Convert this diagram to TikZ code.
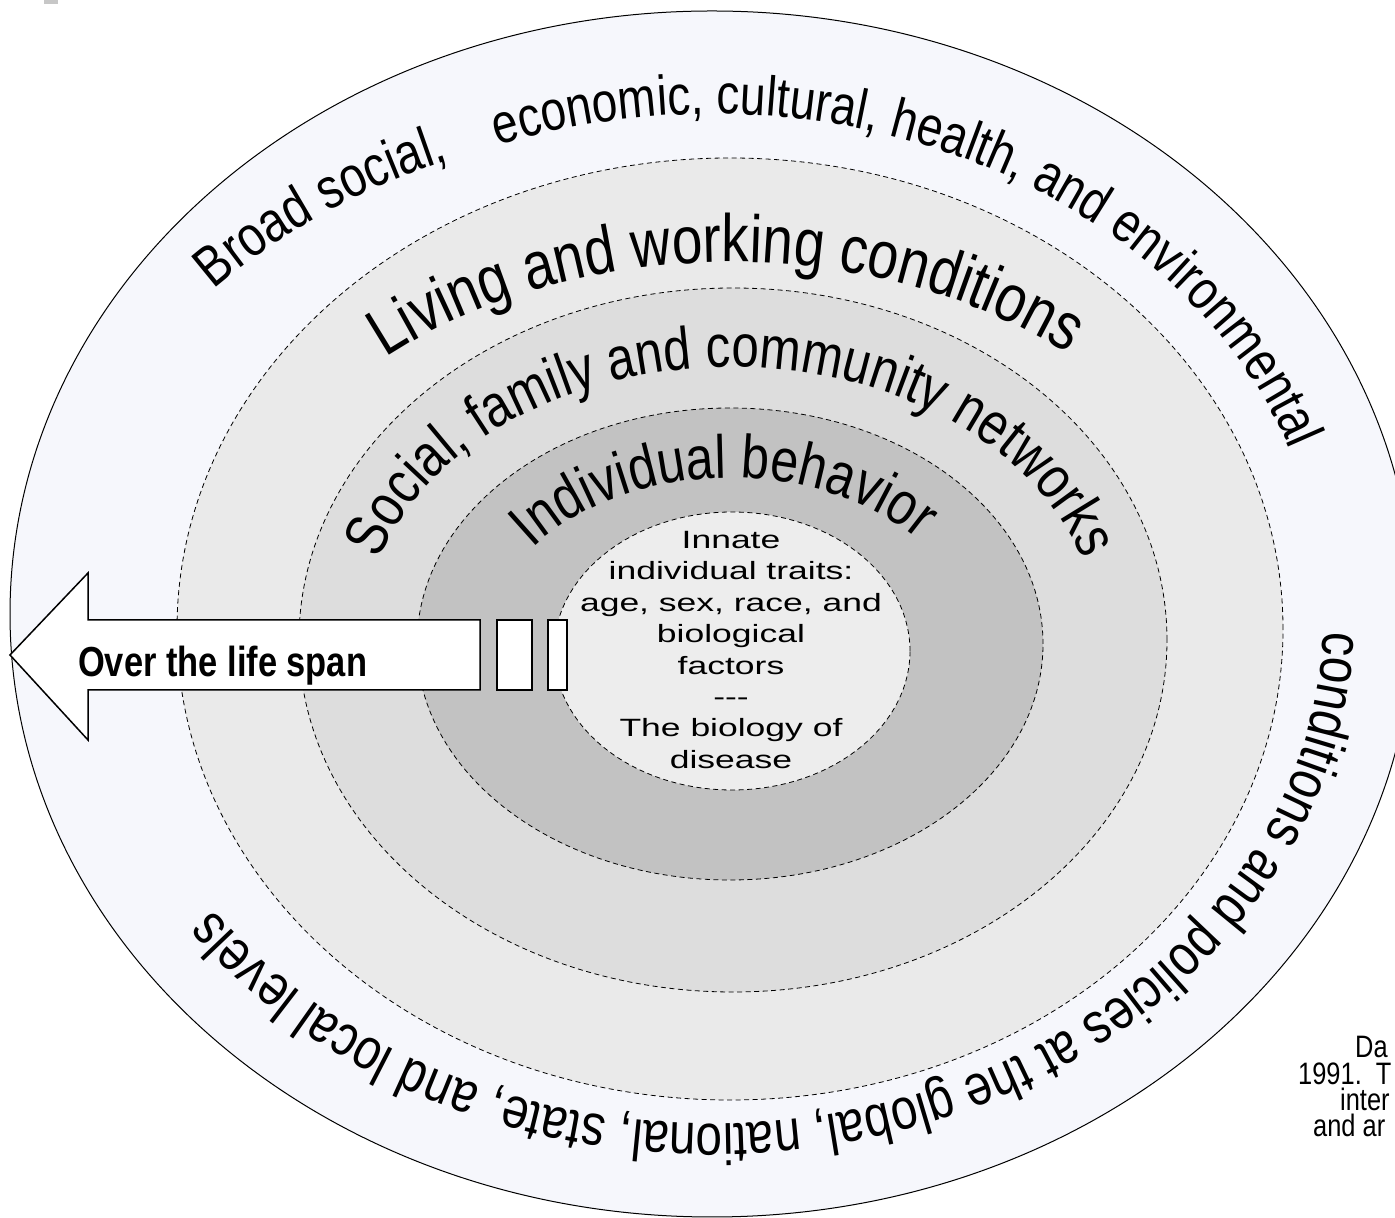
\documentclass[tikz,border=0pt]{standalone}
\usepackage{fontspec}
\setmainfont{Liberation Sans}
\newfontfamily\nar[FakeStretch=0.82]{Liberation Sans}
\newfontfamily\widef[FakeStretch=1.42]{Liberation Sans}
\usetikzlibrary{decorations.text}
\definecolor{tintc}{HTML}{F6F7FC}
\definecolor{ringA}{HTML}{EAEAEA}
\definecolor{ringB}{HTML}{DDDDDD}
\definecolor{ringC}{HTML}{C2C2C2}
\definecolor{ringD}{HTML}{EDEDED}
\pgfdeclareradialshading{outerglow}{\pgfpoint{0bp}{0bp}}{color(0bp)=(tintc); color(38bp)=(tintc); color(50bp)=(white)}
\begin{document}
\begin{tikzpicture}[x=1pt,y=1pt,
  ringline/.style={draw=black, line width=0.8pt, dash pattern=on 5pt off 3.5pt},
  boxpart/.style={draw=black, line width=1.5pt, fill=white},
  inner/.style={font=\widef\fontsize{25}{31.4}\selectfont, align=center},
  credit/.style={font=\nar\fontsize{31}{33}\selectfont, anchor=base west, inner sep=0pt}]
\useasboundingbox (0,0) rectangle (1395,1218);
\fill[white] (0,0) rectangle (1395,1218);
\fill[black!22] (44,1214) rectangle (58,1218);
% rings
\shade[shading=outerglow] (712,604) ellipse [x radius=702, y radius=603];
\draw[line width=1pt] (712,604) ellipse [x radius=702, y radius=603];
\path[ringline, fill=ringA] (730,589) ellipse [x radius=553, y radius=471];
\path[ringline, fill=ringB] (733,578) ellipse [x radius=434, y radius=352];
\path[ringline, fill=ringC] (730,574) ellipse [x radius=313, y radius=236];
\path[ringline, fill=ringD] (732,567) ellipse [x radius=178, y radius=139];
% outer curved text
\path[shift={(712,604)}, decorate, decoration={text along path,
  text={|\nar\fontsize{57}{60}\selectfont|Broad social,}}]
  (139:660 and 495) arc[start angle=139, end angle=95, x radius=660, y radius=495];
\path[shift={(712,604)}, decorate, decoration={text along path,
  text={|\nar\fontsize{56}{60}\selectfont|economic, cultural, health, and environmental}}]
  (110.5:612 and 500) arc[start angle=110.5, end angle=-20, x radius=612, y radius=500];
\path[shift={(712,604)}, decorate, decoration={text along path,
  text={|\nar\fontsize{58}{62}\selectfont|conditions and policies at the global, national, state, and local levels}}]
  (-2:612 and 510) arc[start angle=-2, end angle=-178, x radius=612, y radius=510];
% ring texts
\path[shift={(730,578)}, decorate, decoration={text along path, text align=center,
  text={|\nar\fontsize{67}{74}\selectfont|Living and working conditions}}]
  (150:517 and 378) arc[start angle=150, end angle=31, x radius=517, y radius=378];
\path[shift={(731,578)}, decorate, decoration={text along path, text align=center,
  text={|\nar\fontsize{60}{66}\selectfont|Social, family and community networks}}]
  (178:368 and 273) arc[start angle=178, end angle=2, x radius=368, y radius=273];
\path[shift={(730,568)}, decorate, decoration={text along path, text align=center,
  text={|\nar\fontsize{61}{67}\selectfont|Individual behavior}}]
  (165:245 and 172) arc[start angle=165, end angle=19, x radius=245, y radius=172];
% inner text
\node[inner] (core) at (731,568) {Innate\\individual traits:\\age, sex, race, and\\biological\\factors\\---\\The biology of\\disease};
% arrow
\coordinate (tip) at (10,563);
\draw[boxpart, line join=miter] (tip) -- (88,645) -- (88,598) -- (480,598) -- (480,528) -- (88,528) -- (88,478) -- cycle;
\node[anchor=base west, inner sep=0pt, font=\nar\bfseries\fontsize{42}{46}\selectfont] (span) at (78,541) {Over the life span};
\node[boxpart, minimum width=35pt, minimum height=70pt, inner sep=0pt] (barA) at (514.5,563) {};
\node[boxpart, minimum width=19pt, minimum height=70pt, inner sep=0pt] (barB) at (557.5,563) {};
% credit text (cut at right edge)
\node[credit] (c1) at (1355,160) {Da};
\node[credit] (c2) at (1298,133) {1991.\ \ T};
\node[credit] (c3) at (1340,107) {inter};
\node[credit] (c4) at (1313,81) {and ar};
\end{tikzpicture}
\end{document}
